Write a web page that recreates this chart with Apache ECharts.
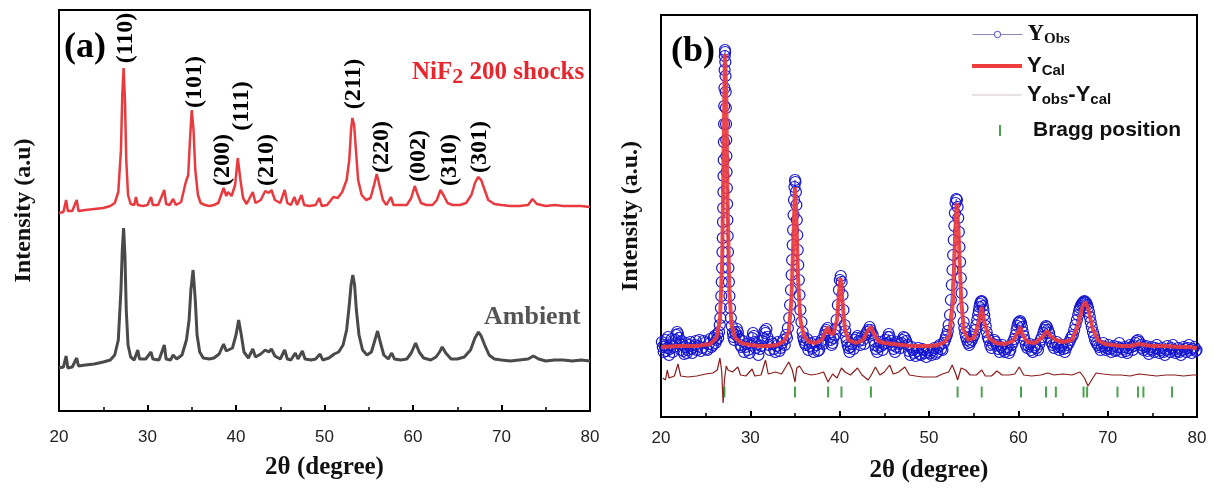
<!DOCTYPE html>
<html>
<head>
<meta charset="utf-8">
<title>NiF2 XRD</title>
<script src="https://cdn.jsdelivr.net/npm/echarts@6/dist/echarts.min.js"></script>
<style>
html,body{margin:0;padding:0;background:#fff;}
#main{width:1214px;height:489px;}
</style>
</head>
<body>
<div id="main"></div>
<script>
// ---- panel (a): two patterns, [2theta, intensity a.u.] ----
const shocked = [
  [20.0,198],[20.5,199],[20.8,211],[21.0,200],[21.5,200],[22.0,211],[22.2,200],[23.0,201],[24.0,202],[25.0,203],
  [25.8,205],[26.3,208],[26.7,219],[27.0,261],[27.15,316],[27.3,343],[27.45,311],[27.6,251],[27.8,216],[28.1,207],
  [28.5,206],[28.7,214],[28.9,206],[29.5,205],[30.0,206],[30.4,214],[30.6,206],[31.2,206],[31.9,221],[32.1,207],
  [32.5,206],[32.9,212],[33.2,206],[33.8,209],[34.3,228],[34.6,236],[34.8,271],[35.0,301],[35.2,281],[35.4,241],
  [35.7,216],[36.0,208],[36.5,206],[37.0,205],[37.5,206],[38.0,208],[38.6,223],[38.9,215],[39.1,219],[39.5,215],
  [39.9,226],[40.2,253],[40.5,231],[40.8,213],[41.2,207],[41.9,219],[42.2,208],[42.8,211],[43.3,220],[43.7,218],
  [44.0,221],[44.4,211],[45.0,208],[45.5,221],[45.8,208],[46.2,206],[46.6,214],[46.9,206],[47.4,216],[47.7,206],
  [48.3,205],[49.0,206],[49.4,213],[49.7,205],[50.3,206],[51.0,214],[51.5,213],[52.0,219],[52.5,231],[52.8,251],
  [53.0,281],[53.15,293],[53.35,286],[53.55,261],[53.8,231],[54.2,216],[54.7,211],[55.2,213],[55.6,226],[55.9,237],
  [56.2,226],[56.6,211],[57.0,206],[57.5,214],[57.8,206],[58.5,206],[59.3,206],[59.8,213],[60.2,225],[60.5,217],
  [60.9,208],[61.5,206],[62.2,206],[62.7,211],[63.1,221],[63.5,215],[63.9,208],[64.5,206],[65.3,206],[66.0,208],
  [66.6,216],[67.0,228],[67.35,234],[67.7,231],[68.1,221],[68.5,211],[69.2,207],[70.0,206],[71.0,205],[72.0,205],
  [73.0,206],[73.5,212],[74.0,207],[75.0,205],[76.0,206],[77.0,205],[78.0,205],[79.0,205],[80.0,204]
];
const ambient = [
  [20.0,43],[20.5,44],[20.8,55],[21.0,43],[21.5,44],[22.0,53],[22.2,45],[23.0,46],[24.0,47],[25.0,49],
  [25.8,51],[26.3,56],[26.7,71],[27.0,121],[27.15,161],[27.3,183],[27.45,156],[27.6,101],[27.8,66],[28.1,54],
  [28.5,51],[28.9,61],[29.1,52],[29.8,52],[30.4,59],[30.6,52],[31.3,51],[31.9,66],[32.1,52],[32.6,51],
  [32.9,56],[33.3,52],[33.9,56],[34.4,71],[34.7,91],[34.9,121],[35.15,141],[35.4,111],[35.6,76],[35.9,59],
  [36.3,53],[37.0,52],[37.5,53],[38.1,57],[38.6,67],[38.9,60],[39.1,62],[39.6,63],[40.0,76],[40.3,91],
  [40.6,76],[40.9,59],[41.4,53],[41.9,62],[42.2,54],[42.8,57],[43.3,61],[43.7,59],[44.0,62],[44.4,55],
  [45.0,52],[45.5,61],[45.8,52],[46.2,51],[46.7,58],[47.0,52],[47.5,60],[47.8,52],[48.5,51],[49.0,52],
  [49.5,57],[49.8,51],[50.5,53],[51.1,57],[51.6,59],[52.1,66],[52.5,81],[52.8,106],[53.0,126],[53.2,136],
  [53.4,126],[53.6,101],[53.9,76],[54.3,61],[54.8,56],[55.3,59],[55.7,71],[56.0,80],[56.3,69],[56.7,56],
  [57.2,52],[57.6,58],[57.9,52],[58.6,51],[59.3,52],[59.8,58],[60.3,68],[60.7,59],[61.2,53],[62.0,51],
  [62.6,54],[63.0,59],[63.3,64],[63.7,58],[64.3,52],[65.0,52],[65.8,54],[66.5,61],[67.0,73],[67.4,79],
  [67.7,75],[68.1,66],[68.6,56],[69.2,52],[70.0,51],[71.0,50],[72.0,51],[73.0,52],[73.6,55],[74.2,52],
  [75.0,50],[76.0,51],[77.0,51],[78.0,50],[79.0,51],[80.0,50]
];
const hklNames = ['(110)','(101)','(200)','(111)','(210)','(211)','(220)','(002)','(310)','(301)'];
const hklTheta = [27.5, 35.4, 38.5, 40.7, 43.5, 53.3, 56.5, 60.6, 64.2, 67.6];
const hklLevel = [373, 329, 251, 305, 251, 327, 264, 255, 251, 264];

// ---- panel (b): Rietveld refinement ----
const yObs = [
  [20.1,75],[20.2,70],[20.3,65],[20.4,72],[20.5,77],[20.6,66],[20.7,69],[20.8,80],[20.9,62],[21.0,68],
  [21.1,72],[21.2,78],[21.3,65],[21.45,70],[21.6,77],[21.7,82],[21.8,85],[21.9,83],[22.0,79],[22.1,73],
  [22.2,67],[22.3,76],[22.4,72],[22.5,66],[22.6,63],[22.7,70],[22.8,74],[22.9,64],[23.0,67],[23.15,72],
  [23.3,75],[23.4,68],[23.5,64],[23.65,70],[23.8,72],[23.9,76],[24.0,67],[24.15,71],[24.3,77],[24.45,66],
  [24.6,69],[24.75,76],[24.9,74],[25.05,68],[25.2,67],[25.35,73],[25.5,78],[25.65,70],[25.8,72],[25.9,79],
  [26.0,81],[26.1,74],[26.2,77],[26.3,83],[26.4,79],[26.5,85],[26.58,92],
  [26.64,99],[26.7,109],[26.75,121],[26.8,135],[26.84,149],[26.88,165],[26.91,179],[26.94,195],[26.96,209],[26.98,225],
  [27.0,241],[27.02,257],[27.04,275],[27.06,293],[27.08,311],[27.1,329],[27.12,347],[27.14,361],[27.16,367],[27.18,365],
  [27.2,355],[27.22,341],[27.24,325],[27.26,309],[27.28,293],[27.3,277],[27.32,261],[27.34,245],[27.37,229],[27.4,213],
  [27.43,197],[27.46,181],[27.5,165],[27.55,149],[27.6,135],[27.66,121],[27.73,109],[27.82,99],[27.92,91],[28.05,84],
  [28.1,80],[28.2,77],[28.3,85],[28.4,82],[28.5,88],[28.6,85],[28.7,80],[28.8,77],[28.9,72],[29.0,70],
  [29.15,76],[29.3,65],[29.45,70],[29.6,73],[29.75,67],[29.9,64],[30.05,72],[30.2,79],[30.3,84],[30.4,81],
  [30.5,75],[30.6,69],[30.75,73],[30.9,62],[31.05,68],[31.2,71],[31.35,76],[31.5,79],[31.6,86],[31.7,84],
  [31.8,88],[31.9,80],[32.05,72],[32.2,67],[32.35,75],[32.5,73],[32.65,68],[32.8,65],[32.95,71],[33.1,75],
  [33.25,66],[33.4,69],[33.55,74],[33.7,77],[33.85,72],[34.0,82],[34.1,79],[34.2,89],[34.35,99],[34.45,112],
  [34.55,127],[34.62,142],[34.68,157],[34.74,172],
  [34.79,187],[34.84,202],[34.89,217],[34.94,230],[35.0,237],[35.05,235],[35.1,225],[35.15,212],[35.2,197],[35.25,182],
  [35.3,167],[35.36,152],[35.43,137],[35.5,122],[35.6,107],[35.72,95],[35.85,85],[35.92,80],[36.0,77],[36.1,74],
  [36.2,72],[36.35,78],[36.5,67],[36.65,71],[36.8,74],[36.95,69],[37.1,65],[37.25,75],[37.4,72],[37.55,66],
  [37.7,67],[37.85,74],[38.0,77],[38.15,73],[38.3,82],[38.4,85],[38.5,87],[38.65,89],[38.8,84],[38.9,80],
  [39.0,77],[39.1,72],[39.2,74],[39.3,79],[39.45,82],[39.55,88],[39.65,97],[39.8,112],[39.92,127],[40.02,137],
  [40.12,141],[40.22,135],[40.32,122],[40.42,107],[40.55,92],[40.62,86],[40.7,80],[40.8,76],[40.9,72],[41.0,69],
  [41.1,65],[41.25,70],[41.4,73],[41.55,68],[41.7,77],[41.85,79],[42.0,81],[42.15,76],[42.3,72],[42.45,80],
  [42.6,77],[42.75,73],[42.9,82],[43.05,85],[43.2,87],[43.35,90],[43.45,87],[43.55,84],[43.7,82],[43.85,76],
  [43.95,72],[44.05,68],[44.2,65],[44.35,70],[44.5,75],[44.65,71],[44.8,67],[44.95,73],[45.1,77],[45.25,74],
  [45.4,80],[45.5,83],[45.6,80],[45.75,76],[45.9,72],[46.05,68],[46.2,65],[46.35,70],[46.5,75],[46.65,73],
  [46.8,69],[46.9,74],[47.0,77],[47.15,80],[47.3,79],[47.45,76],[47.6,72],[47.75,66],[47.9,62],[48.05,70],
  [48.2,67],[48.35,64],[48.5,61],[48.65,66],[48.8,69],[48.95,63],[49.1,62],[49.25,68],[49.4,67],[49.55,64],
  [49.7,60],[49.85,65],[50.0,67],[50.15,64],[50.3,62],[50.45,67],[50.6,69],[50.75,63],[50.9,65],[51.05,70],
  [51.2,72],[51.35,68],[51.5,67],[51.65,74],[51.8,77],[51.9,80],[52.0,82],[52.1,86],[52.2,92],[52.35,102],
  [52.45,117],[52.55,132],[52.63,147],[52.7,162],[52.77,177],[52.84,191],
  [52.9,204],[52.97,214],[53.05,218],[53.13,217],[53.2,210],[53.27,199],[53.34,185],[53.41,170],[53.48,155],[53.56,139],
  [53.65,124],[53.75,109],[53.88,95],[53.96,89],[54.05,84],[54.15,80],[54.25,77],[54.38,74],[54.5,72],[54.65,75],
  [54.8,77],[54.92,80],[55.05,82],[55.18,87],[55.3,92],[55.4,97],[55.5,102],[55.58,106],[55.65,110],[55.72,113],
  [55.8,115],[55.88,116],[55.95,115],[56.02,111],[56.1,107],[56.18,102],[56.25,97],[56.35,91],[56.45,85],[56.58,80],
  [56.7,77],[56.85,72],[57.0,69],[57.15,73],[57.3,77],[57.45,75],[57.6,72],[57.75,68],[57.9,65],[58.05,70],
  [58.2,72],[58.35,67],[58.5,65],[58.65,68],[58.8,70],[58.95,64],[59.1,67],[59.25,72],[59.4,75],[59.55,78],
  [59.7,82],[59.8,87],[59.9,91],[60.0,94],[60.1,95],[60.2,96],[60.3,94],[60.4,90],[60.5,85],[60.6,81],
  [60.7,77],[60.85,72],[61.0,69],[61.15,71],[61.3,73],[61.45,67],[61.6,65],[61.75,70],[61.9,72],[62.05,69],
  [62.2,67],[62.35,73],[62.5,77],[62.65,80],[62.8,84],[62.9,87],[63.0,89],[63.1,91],[63.2,90],[63.32,87],
  [63.45,84],[63.58,79],[63.7,75],[63.85,72],[64.0,69],[64.15,73],[64.3,75],[64.45,70],[64.6,67],[64.75,70],
  [64.9,72],[65.05,68],[65.2,65],[65.35,69],[65.5,72],[65.65,74],[65.8,77],[65.95,80],[66.1,82],[66.25,87],
  [66.4,92],[66.55,97],[66.7,102],[66.8,106],[66.9,109],[67.0,111],[67.1,113],[67.2,114],[67.3,115],[67.4,116],
  [67.5,115],[67.6,114],[67.7,112],[67.8,109],[67.9,105],[68.0,100],[68.1,95],[68.22,90],[68.35,85],[68.48,81],
  [68.6,77],[68.75,74],[68.9,72],[69.05,70],[69.2,67],[69.35,71],[69.5,74],[69.65,70],[69.8,67],[69.95,69],
  [70.1,72],[70.25,68],[70.4,65],[70.55,69],[70.7,71],[70.85,66],[71.0,67],[71.15,70],[71.3,74],[71.45,69],
  [71.6,65],[71.75,68],[71.9,70],[72.05,66],[72.2,64],[72.35,69],[72.5,72],[72.65,70],[72.8,67],[72.95,71],
  [73.1,74],[73.25,76],[73.4,77],[73.55,75],[73.7,72],[73.85,69],[74.0,67],[74.15,70],[74.3,71],[74.45,66],
  [74.6,63],[74.75,68],[74.9,70],[75.05,67],[75.2,65],[75.35,69],[75.5,72],[75.65,68],[75.8,64],[75.95,67],
  [76.1,69],[76.25,65],[76.4,62],[76.55,67],[76.7,71],[76.85,68],[77.0,65],[77.15,69],[77.3,72],[77.45,67],
  [77.6,64],[77.75,66],[77.9,69],[78.05,65],[78.2,62],[78.35,67],[78.5,70],[78.65,68],[78.8,65],[78.95,69],
  [79.1,72],[79.25,67],[79.4,64],[79.55,68],[79.7,70],[79.85,66],[79.95,67]
];
const yCal = [
  [20.0,70],[22.0,71],[24.0,71],[25.5,73],[26.2,79],[26.6,97],[26.85,157],[27.0,267],[27.15,363],[27.3,327],
  [27.45,217],[27.65,127],[27.9,92],[28.3,79],[29.0,74],[30.0,72],[31.0,71],[32.0,71],[33.0,72],[33.8,76],
  [34.3,85],[34.6,117],[34.85,187],[35.0,230],[35.15,202],[35.35,137],[35.6,97],[36.0,81],[36.6,75],[37.3,74],
  [38.0,77],[38.5,87],[38.7,90],[38.9,84],[39.3,83],[39.7,97],[39.95,127],[40.1,139],[40.3,117],[40.6,87],
  [41.0,77],[41.8,74],[42.6,77],[43.2,87],[43.5,90],[43.8,84],[44.3,76],[45.0,74],[46.0,73],[47.0,72],
  [48.0,71],[49.0,71],[50.0,71],[51.0,72],[51.8,75],[52.3,82],[52.7,117],[52.95,187],[53.1,214],[53.3,187],
  [53.6,117],[53.9,87],[54.4,77],[55.0,79],[55.5,92],[55.9,110],[56.2,95],[56.7,79],[57.5,74],[58.5,73],
  [59.4,76],[59.9,84],[60.2,90],[60.5,82],[61.0,75],[61.8,74],[62.6,79],[63.2,86],[63.6,81],[64.2,77],
  [65.0,75],[66.0,77],[66.7,92],[67.2,111],[67.5,115],[67.8,109],[68.3,89],[68.9,77],[69.7,73],[70.5,72],
  [71.5,71],[72.5,71],[73.5,73],[74.2,72],[75.0,71],[76.5,71],[78.0,70],[79.0,70],[80.0,69]
];
const yDiff = [
  [20.2,39],[20.5,37],[20.7,47],[20.9,39],[21.5,41],[21.9,53],[22.2,41],[23.0,40],[24.0,41],[25.0,43],
  [25.8,44],[26.3,47],[26.6,59],[26.8,45],[26.95,14],[27.1,37],[27.3,51],[27.5,47],[28.0,45],[28.6,50],
  [28.9,42],[29.5,41],[30.2,48],[30.5,41],[31.2,42],[31.7,57],[32.0,43],[32.8,45],[33.5,43],[34.3,55],
  [34.7,47],[35.0,35],[35.2,49],[35.5,51],[36.0,44],[36.8,42],[37.5,43],[38.2,45],[38.7,35],[39.2,43],
  [39.7,39],[40.2,49],[40.6,45],[41.2,42],[42.0,49],[42.5,42],[43.2,37],[43.6,43],[44.0,50],[44.5,42],
  [45.0,45],[45.6,52],[46.0,43],[46.6,45],[47.3,50],[47.8,42],[48.5,41],[49.3,40],[50.0,40],[50.8,40],
  [51.5,43],[52.2,45],[52.6,52],[53.0,43],[53.2,37],[53.6,49],[54.1,47],[54.6,42],[55.3,42],[55.9,47],
  [56.3,41],[57.0,41],[57.6,46],[58.2,42],[59.0,42],[59.6,43],[60.1,50],[60.6,42],[61.5,41],[62.5,42],
  [63.3,44],[64.0,42],[65.0,43],[66.0,42],[66.9,45],[67.4,39],[67.8,31],[68.2,37],[68.7,44],[69.5,43],
  [70.5,42],[71.5,42],[72.5,41],[73.5,43],[74.5,42],[75.5,41],[76.5,42],[77.5,42],[78.5,41],[79.5,42],[80.0,42]
];
const braggTheta = [27.1, 35.0, 38.7, 40.2, 43.5, 53.2, 55.9, 60.3, 63.1, 64.2, 67.3, 67.7, 71.1, 73.4, 74.0, 77.2];
const braggLevel = 25;

const xMin = 20, xMax = 80, xStep = 10;

const SERIF = '"Liberation Serif", "Times New Roman", serif';
const SANS = '"Liberation Sans", Arial, sans-serif';

function xAxisFor(gridIndex, gap, labelMargin) {
  return {
    type: 'value', gridIndex: gridIndex, min: xMin, max: xMax, interval: xStep,
    name: '2θ (degree)', nameLocation: 'middle', nameGap: gap,
    nameTextStyle: {fontFamily: SERIF, fontWeight: 'bold', fontSize: 25, color: '#111'},
    axisLine: {lineStyle: {color: '#000', width: 2}},
    axisTick: {inside: true, length: 6, lineStyle: {color: '#000', width: 2}},
    minorTick: {show: true, splitNumber: 2, length: 4, lineStyle: {color: '#000', width: 1.5}},
    axisLabel: {fontFamily: SANS, fontSize: 17, color: '#222', margin: labelMargin},
    splitLine: {show: false}
  };
}
function yAxisFor(gridIndex, name, top, gap) {
  return {
    type: 'value', gridIndex: gridIndex, min: 0, max: top,
    name: name, nameLocation: 'middle', nameGap: gap,
    nameTextStyle: {fontFamily: SERIF, fontWeight: 'bold', fontSize: 24, color: '#111'},
    axisLine: {show: false}, axisTick: {show: false}, axisLabel: {show: false},
    splitLine: {show: false}
  };
}

function legendFor(top, extra) {
  return Object.assign({
    left: 972, top: top, itemWidth: 50, itemHeight: 10, padding: 0,
    selectedMode: false, orient: 'vertical',
    textStyle: {color: '#111', fontFamily: SANS, fontWeight: 'bold', fontSize: 21}
  }, extra);
}
const subRich = function (family, big) {
  return {
    y: {fontFamily: family, fontWeight: 'bold', fontSize: big, color: '#111'},
    s: {fontFamily: family, fontWeight: 'bold', fontSize: 15, color: '#111', padding: [10, 0, 0, 0]}
  };
};

const chart = echarts.init(document.getElementById('main'));
chart.setOption({
  animation: false,
  backgroundColor: '#fff',
  grid: [
    {left: 59, top: 10, width: 531, height: 401, show: true, borderColor: '#000', borderWidth: 2},
    {left: 661, top: 15, width: 536, height: 402, show: true, borderColor: '#000', borderWidth: 2}
  ],
  title: [
    {text: '(a)', left: 59, top: 25, textStyle: {fontFamily: SERIF, fontWeight: 'bold', fontSize: 36, color: '#000'}},
    {text: '(b)', left: 666, top: 29, textStyle: {fontFamily: SERIF, fontWeight: 'bold', fontSize: 36, color: '#000'}},
    {
      text: '{m|NiF}{s|2}{m| 200 shocks}', left: 407, top: 52,
      textStyle: {rich: {
        m: {fontFamily: SERIF, fontWeight: 'bold', fontSize: 25, color: '#e8262c'},
        s: {fontFamily: SERIF, fontWeight: 'bold', fontSize: 22, color: '#e8262c', padding: [9, 0, 0, 0]}
      }}
    },
    {text: 'Ambient', left: 479, top: 299, textStyle: {fontFamily: SERIF, fontWeight: 'bold', fontSize: 26, color: '#555'}}
  ],
  legend: [
    legendFor(23, {
      itemHeight: 8,
      data: [{name: 'Y_Obs', lineStyle: {color: '#8a8ab8', width: 1, opacity: 1},
              itemStyle: {color: '#fff', borderColor: '#4a4ab8', borderWidth: 1}}],
      formatter: function () { return '{y|Y}{s|Obs}'; },
      textStyle: {rich: subRich(SERIF, 23)}
    }),
    legendFor(55, {
      itemHeight: 4,
      data: [{name: 'Y_Cal', icon: 'rect', itemStyle: {color: '#ee3d3d'}}],
      formatter: function () { return '{y|Y}{s|Cal}'; },
      textStyle: {rich: subRich(SANS, 22)}
    }),
    legendFor(84, {
      itemHeight: 1,
      data: [{name: 'Y_obs-Y_cal', icon: 'rect', itemStyle: {color: '#d2c2cc'}}],
      formatter: function () { return '{y|Y}{s|obs}{y|-Y}{s|cal}'; },
      textStyle: {rich: subRich(SANS, 22)}
    }),
    legendFor(120, {
      left: 999, itemWidth: 2, itemHeight: 11,
      data: [{name: 'Bragg position', icon: 'rect'}],
      textStyle: {color: '#111', fontFamily: SANS, fontWeight: 'bold', fontSize: 21, padding: [0, 0, 0, 27]}
    })
  ],
  xAxis: [xAxisFor(0, 44, 18), xAxisFor(1, 41, 13)],
  yAxis: [yAxisFor(0, 'Intensity (a.u)', 401, 23), yAxisFor(1, 'Intensity (a.u.)', 402, 18)],
  series: [
    {
      name: 'Ambient', type: 'line', xAxisIndex: 0, yAxisIndex: 0, data: ambient,
      symbol: 'none', lineStyle: {color: '#4a4a4a', width: 3}, z: 2
    },
    {
      name: 'NiF2 200 shocks', type: 'line', xAxisIndex: 0, yAxisIndex: 0, data: shocked,
      symbol: 'none', lineStyle: {color: '#e83a3f', width: 2.5}, z: 2
    },
    {
      name: 'hkl', type: 'scatter', xAxisIndex: 0, yAxisIndex: 0, silent: true,
      data: hklTheta.map(function (t, i) { return [t, hklLevel[i], hklNames[i]]; }),
      symbolSize: 1, itemStyle: {color: 'rgba(0,0,0,0)'},
      label: {
        show: true, position: 'inside', rotate: 90,
        formatter: function (p) { return p.data[2]; },
        fontFamily: SERIF, fontWeight: 'bold', fontSize: 24, color: '#000',
        textBorderWidth: 0, opacity: 1
      },
      z: 5
    },
    {
      name: 'Y_Obs', type: 'line', xAxisIndex: 1, yAxisIndex: 1, data: yObs,
      symbol: 'circle', symbolSize: 11, showAllSymbol: true,
      itemStyle: {color: 'rgba(0,0,0,0)', borderColor: '#1616d0', borderWidth: 1.2},
      lineStyle: {color: '#1616d0', width: 0.6}, z: 2
    },
    {
      name: 'Y_Cal', type: 'line', xAxisIndex: 1, yAxisIndex: 1, data: yCal,
      symbol: 'none', itemStyle: {color: '#ee3d3d'},
      lineStyle: {color: 'rgba(238,60,60,0.9)', width: 4}, z: 3
    },
    {
      name: 'Y_obs-Y_cal', type: 'line', xAxisIndex: 1, yAxisIndex: 1, data: yDiff,
      symbol: 'none', itemStyle: {color: '#8b1d1d'},
      lineStyle: {color: '#8b1d1d', width: 1.2}, z: 3
    },
    {
      name: 'Bragg position', type: 'scatter', xAxisIndex: 1, yAxisIndex: 1,
      data: braggTheta.map(function (t) { return [t, braggLevel]; }),
      symbol: 'rect', symbolSize: [2, 11], itemStyle: {color: '#1e8c22'}, z: 4
    }
  ]
});
</script>
</body>
</html>
